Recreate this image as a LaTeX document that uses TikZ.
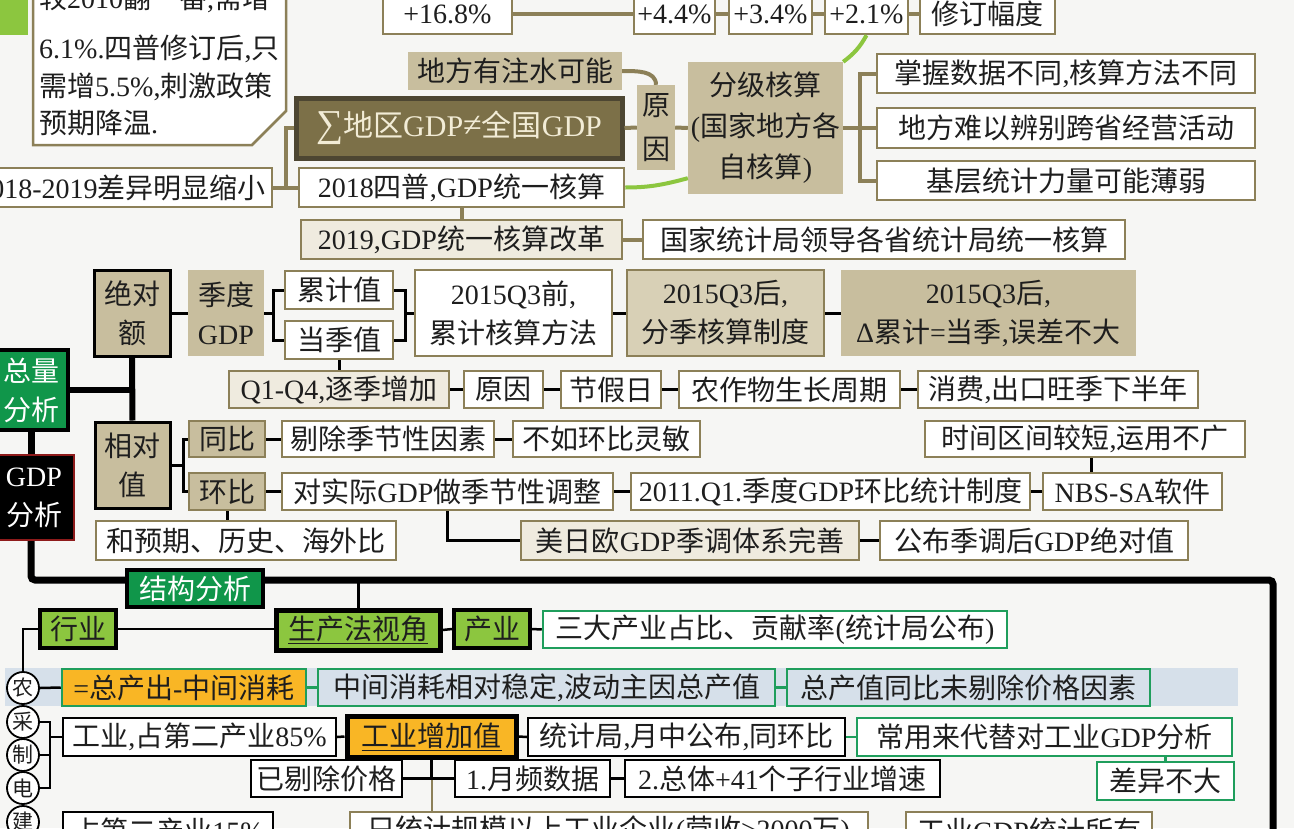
\documentclass[tikz,border=0pt]{standalone}
\usepackage{fontspec}
\setmainfont{Liberation Serif}
\newfontfamily\cjkf{Noto Sans CJK SC}
\newcount\cjkc
\cjkc="3000 \loop \XeTeXcharclass\cjkc=7 \advance\cjkc by 1 \ifnum\cjkc<"3040 \repeat
\cjkc="4E00 \loop \XeTeXcharclass\cjkc=7 \advance\cjkc by 1 \ifnum\cjkc<"A000 \repeat
\cjkc="FF00 \loop \XeTeXcharclass\cjkc=7 \advance\cjkc by 1 \ifnum\cjkc<"FFF0 \repeat
\XeTeXinterchartoks 0 7 = {\cjkf}
\XeTeXinterchartoks 4095 7 = {\cjkf}
\XeTeXinterchartoks 7 0 = {\rmfamily}
\XeTeXinterchartoks 7 4095 = {\rmfamily}
\XeTeXinterchartokenstate=1
\definecolor{bg}{HTML}{F6F6F4}
\definecolor{txt}{HTML}{1E1E1E}
\definecolor{olv}{HTML}{8C8058}
\definecolor{tan}{HTML}{C8BE9E}
\definecolor{ltan}{HTML}{D8D0B6}
\definecolor{cream}{HTML}{EFEBDF}
\definecolor{dkolv}{HTML}{4D4632}
\definecolor{sigf}{HTML}{7C7048}
\definecolor{sigt}{HTML}{F2ECD6}
\definecolor{dgrn}{HTML}{10964A}
\definecolor{lgrn}{HTML}{8CC63F}
\definecolor{gbd}{HTML}{1F9E5C}
\definecolor{lblue}{HTML}{D6E0EA}
\definecolor{orng}{HTML}{F9B625}
\definecolor{gdpred}{HTML}{8E1B1B}
\tikzset{
  base/.style={inner sep=0pt, align=center, text=txt, font=\fontsize{28}{39}\selectfont},
  wbox/.style={base, draw=olv, line width=2.5pt, fill=white},
  cbox/.style={base, draw=olv, line width=2.5pt, fill=cream},
  tbox/.style={base, fill=tan},
  lbox/.style={base, fill=ltan, draw=olv, line width=2pt},
  tobox/.style={base, fill=tan, draw=olv, line width=2pt},
  sigbox/.style={base, fill=sigf, draw=dkolv, line width=5pt, text=sigt, font=\fontsize{30}{39}\selectfont},
  kbox/.style={base, draw=black, line width=2.2pt, fill=white},
  gbox/.style={base, draw=gbd, line width=2.5pt, fill=white},
  bbox/.style={base, draw=gbd, line width=2.5pt, fill=lblue},
  obox/.style={base, draw=gbd, line width=2.5pt, fill=orng},
  okbox/.style={base, draw=black, line width=5pt, fill=orng},
  tkbox/.style={base, fill=tan, draw=black, line width=3pt},
  dgbox/.style={base, fill=dgrn, draw=black, line width=4pt, text=white},
  gdpbox/.style={base, fill=black, draw=gdpred, line width=2pt, text=white},
  lgbox/.style={base, fill=lgrn, draw=black, line width=4pt},
  circ/.style={circle, draw=black, line width=1.8pt, fill=white, minimum size=32pt, inner sep=0pt, text=txt, font=\fontsize{21}{21}\selectfont},
  ol/.style={draw=olv, line width=4pt},
  bl/.style={draw=black, line width=3pt},
  gl/.style={draw=lgrn, line width=4pt},
  grl/.style={draw=gbd, line width=2.5pt},
  trunk/.style={draw=black, line width=7pt, rounded corners=4pt},
}
\newcommand\Bx[7]{\node[#2, minimum width={(#5)-(#3)}, minimum height={(#6)-(#4)}] (#1) at ({((#3)+(#5))/2},{((#4)+(#6))/2}) {#7};}
\begin{document}
\begin{tikzpicture}[x=1pt,y=-1pt]
\path[use as bounding box] (0,0) rectangle (1294,828);
\clip (0,0) rectangle (1294,828);
\fill[bg] (0,0) rectangle (1294,828);
% ---------- top area
\fill[lgrn] (0,-2) rectangle (28,35);
\draw[olv, line width=2.5pt, fill=white] (33,-8) -- (286,-8) -- (286,111) -- (252,145) -- (33,145) -- cycle;
\node[base, align=left, anchor=north west, font=\fontsize{28}{37.7}\selectfont] (ctx) at (39,-15) {较2010翻一番,需增\\[12pt]6.1\%.四普修订后,只\\需增5.5\%,刺激政策\\预期降温.};
\Bx{p168}{wbox}{383}{-6}{512}{34}{+16.8\%}
\Bx{p44}{wbox}{634}{-6}{715}{34}{+4.4\%}
\Bx{p34}{wbox}{729}{-6}{812}{34}{+3.4\%}
\Bx{p21}{wbox}{825}{-6}{908}{34}{+2.1\%}
\Bx{xdfd}{wbox}{920}{-6}{1055}{34}{修订幅度}
\draw[ol] (p168.east) -- (p44.west);
\draw[ol] (p44.east) -- (p34.west);
\draw[ol] (p34.east) -- (p21.west);
\draw[ol] (p21.east) -- (xdfd.west);
\Bx{zs}{tbox}{408}{52}{622}{90}{地方有注水可能}
\Bx{yy}{tbox, font=\fontsize{28}{44}\selectfont}{637}{85}{675}{170}{原\\因}
\Bx{sig}{sigbox}{296}{98}{622}{158}{{\fontsize{38}{38}\selectfont ∑}地区GDP{\fontsize{34}{34}\selectfont ≠}全国GDP}
\Bx{fj}{tbox, font=\fontsize{28}{41}\selectfont}{688}{62}{843}{194}{分级核算\\(国家地方各\\自核算)}
\Bx{r1}{wbox}{877}{54}{1255}{93}{掌握数据不同,核算方法不同}
\Bx{r2}{wbox}{877}{108}{1255}{148}{地方难以辨别跨省经营活动}
\Bx{r3}{wbox}{877}{161}{1255}{200}{基层统计力量可能薄弱}
\Bx{d1819}{wbox}{-30}{168}{272}{207}{2018-2019差异明显缩小}
\Bx{s2018}{wbox}{299}{168}{624}{207}{2018四普,GDP统一核算}
\Bx{s2019}{cbox}{301}{220}{622}{259}{2019,GDP统一核算改革}
\Bx{gjtj}{wbox}{643}{220}{1125}{259}{国家统计局领导各省统计局统一核算}
\draw[ol] (d1819.east) -- ++(13,0) coordinate (bkA) |- (sig.west);
\draw[ol] (bkA) -- (s2018.west);
\draw[ol] (sig.east) -- (yy.west);
\draw[ol] (yy.east) -- (fj.west);
\draw[ol] (zs.east) to[out=0,in=90] (yy.north);
\draw[ol] (fj.east) -- ++(17,0) coordinate (bkB) |- (r1.west);
\draw[ol] (bkB) |- (r3.west);
\draw[ol] (bkB) -- (r2.west);
\draw[gl] (p21.south) to[bend left=12] (fj.north east);
\draw[gl] (s2018.east) to[out=0,in=195] ([yshift=16pt]fj.south west);
\draw[ol] (s2018.south) -- (s2019.north);
\draw[ol] (s2019.east) -- (gjtj.west);
% ---------- total analysis
\Bx{jde}{tkbox}{94}{270}{170}{356}{绝对\\额}
\Bx{jd}{tbox}{188}{270}{264}{356}{季度\\GDP}
\Bx{ljz}{wbox}{285}{271}{393}{309}{累计值}
\Bx{dj}{wbox}{285}{321}{393}{359}{当季值}
\Bx{q3q}{wbox}{415}{270}{612}{356}{2015Q3前,\\累计核算方法}
\Bx{q3h}{lbox}{627}{270}{824}{356}{2015Q3后,\\分季核算制度}
\Bx{q3d}{tbox}{841}{270}{1136}{356}{2015Q3后,\\Δ累计=当季,误差不大}
\Bx{q14}{cbox}{229}{371}{449}{408}{Q1-Q4,逐季增加}
\Bx{yy2}{wbox}{464}{371}{543}{408}{原因}
\Bx{jjr}{wbox}{561}{371}{661}{408}{节假日}
\Bx{nzw}{wbox}{679}{371}{900}{408}{农作物生长周期}
\Bx{xf}{wbox}{918}{371}{1198}{408}{消费,出口旺季下半年}
\Bx{zl}{dgbox}{-6}{350}{68}{430}{总量\\分析}
\Bx{gdp}{gdpbox}{-6}{455}{74}{540}{GDP\\分析}
\Bx{xdz}{tkbox}{95}{422}{170}{508}{相对\\值}
\Bx{tb}{tobox}{189}{421}{265}{457}{同比}
\Bx{hb}{tobox}{189}{473}{265}{510}{环比}
\Bx{tcj}{wbox}{282}{421}{494}{457}{剔除季节性因素}
\Bx{brhb}{wbox}{513}{421}{700}{457}{不如环比灵敏}
\Bx{dsj}{wbox}{282}{473}{613}{510}{对实际GDP做季节性调整}
\Bx{y2011}{wbox}{631}{473}{1030}{510}{2011.Q1.季度GDP环比统计制度}
\Bx{nbs}{wbox}{1043}{473}{1222}{510}{NBS-SA软件}
\Bx{sjqj}{wbox}{925}{421}{1245}{457}{时间区间较短,运用不广}
\Bx{hyq}{wbox}{96}{521}{396}{560}{和预期、历史、海外比}
\Bx{mry}{cbox}{521}{521}{859}{560}{美日欧GDP季调体系完善}
\Bx{gb}{wbox}{880}{521}{1188}{560}{公布季调后GDP绝对值}
\draw[bl] (jde.east) -- (jd.west);
\draw[bl] (jd.east) -- ++(9,0) coordinate (bkC) |- (ljz.west);
\draw[bl] (bkC) |- (dj.west);
\coordinate (bkD) at (405,313);
\draw[bl] (ljz.east) -| (bkD);
\draw[bl] (dj.east) -| (bkD);
\draw[bl] (bkD) -- (q3q.west);
\draw[bl] (q3q.east) -- (q3h.west);
\draw[bl] (q3h.east) -- (q3d.west);
\draw[bl] (dj.south) -- (q14.north);
\draw[bl] (q14.east) -- (yy2.west);
\draw[bl] (yy2.east) -- (jjr.west);
\draw[bl] (jjr.east) -- (nzw.west);
\draw[bl] (nzw.east) -- (xf.west);
\draw[draw=black, line width=6pt] (jde.south) -- (xdz.north);
\draw[draw=black, line width=6pt] (zl.east) -- (zl.east -| jde.south);
\draw[draw=black, line width=7pt] (zl.south) -- (zl.south |- gdp.north);
\draw[bl] (xdz.east) -- ++(12,0) coordinate (bkE) |- (tb.west);
\draw[bl] (bkE) |- (hb.west);
\draw[bl] (tb.east) -- (tcj.west);
\draw[bl] (tcj.east) -- (brhb.west);
\draw[bl] (hb.east) -- (dsj.west);
\draw[bl] (dsj.east) -- (y2011.west);
\draw[bl] (y2011.east) -- (nbs.west);
\draw[bl] ([xshift=6pt]sjqj.south) -- ([xshift=6pt]sjqj.south |- nbs.north);
\draw[bl] (hb.south) -- (hb.south |- hyq.north);
\draw[bl] (dsj.south) |- (mry.west);
\draw[bl] (mry.east) -- (gb.west);
% ---------- trunk
\coordinate (tk) at (1273,580);
\coordinate (tkend) at (1273,860);
\draw[trunk] (gdp.south -| zl.south) -- (zl.south |- tk) -- (tk) -- (tkend);
% ---------- structure analysis
\fill[lblue] (5,668) rectangle (1238,706);
\Bx{jgfx}{dgbox}{127}{570}{263}{607}{结构分析}
\Bx{hy}{lgbox}{40}{610}{116}{648}{行业}
\Bx{scfa}{lgbox, line width=5pt}{276}{610}{440}{650}{\underline{生产法视角}}
\Bx{cy}{lgbox}{454}{610}{530}{648}{产业}
\Bx{sdcy}{gbox}{543}{611}{1007}{648}{三大产业占比、贡献率(统计局公布)}
\node[circ] (nong) at (23,688) {农};
\node[circ] (cai) at (23,722) {采};
\node[circ] (zhi) at (23,755) {制};
\node[circ] (dian) at (23,788) {电};
\node[circ] (jian) at (23,822) {建};
\Bx{zcc}{obox}{62}{669}{306}{706}{=总产出-中间消耗}
\Bx{zjxh}{bbox}{318}{669}{775}{706}{中间消耗相对稳定,波动主因总产值}
\Bx{zcz}{bbox}{787}{669}{1150}{706}{总产值同比未剔除价格因素}
\Bx{gy}{kbox}{63}{718}{336}{756}{工业,占第二产业85\%}
\Bx{gyzj}{okbox}{347}{716}{516}{757}{\underline{工业增加值}}
\Bx{tjj}{kbox}{528}{718}{845}{756}{统计局,月中公布,同环比}
\Bx{cyld}{gbox}{857}{718}{1232}{756}{常用来代替对工业GDP分析}
\Bx{cybd}{gbox}{1097}{762}{1234}{800}{差异不大}
\Bx{ytc}{kbox}{251}{760}{402}{797}{已剔除价格}
\Bx{yp}{kbox}{455}{760}{610}{797}{1.月频数据}
\Bx{zt}{kbox}{625}{760}{940}{797}{2.总体+41个子行业增速}
\Bx{zd15}{kbox}{63}{812}{273}{850}{占第二产业15\%}
\Bx{gm}{wbox}{350}{812}{868}{850}{只统计规模以上工业企业(营收≥2000万)}
\Bx{gdpall}{wbox}{906}{812}{1152}{850}{工业GDP统计所有}
\draw[bl] (scfa.north) -- (scfa.north |- tk);
\draw[draw=black, line width=2.5pt] (hy.east) -- (hy.east -| scfa.west);
\draw[draw=black, line width=2.5pt] (scfa.east) -- (cy.west);
\draw[draw=black, line width=2.5pt] (cy.east) -- (sdcy.west);
\draw[draw=black, line width=2.5pt] (hy.west) -| (nong.north);
\draw[draw=black, line width=2.5pt] (nong.east) -- (zcc.west);
\draw[grl] (zcc.east) -- (zjxh.west);
\draw[grl] (zjxh.east) -- (zcz.west);
\coordinate (bkF) at (50,737);
\draw[draw=black, line width=2.5pt] (cai.east) -| (bkF);
\draw[draw=black, line width=2.5pt] (dian.east) -| (bkF);
\draw[draw=black, line width=2.5pt] (zhi.east) -- (zhi.east -| bkF);
\draw[draw=black, line width=2.5pt] (bkF) -- (gy.west);
\draw[draw=black, line width=2.5pt] (gy.east) -- (gyzj.west);
\draw[draw=black, line width=2.5pt] (gyzj.east) -- (tjj.west);
\draw[grl] (tjj.east) -- (cyld.west);
\draw[grl] (cyld.south -| cybd.north) -- (cybd.north);
\draw[draw=olv, line width=2pt] (gyzj.south |- ytc.east) -- (gyzj.south |- gm.north);
\draw[bl] (gyzj.south) -- (gyzj.south |- ytc.east);
\draw[bl] (ytc.east) -- (yp.west);
\draw[draw=black, line width=2.5pt] (yp.east) -- (zt.west);
\end{tikzpicture}
\end{document}
